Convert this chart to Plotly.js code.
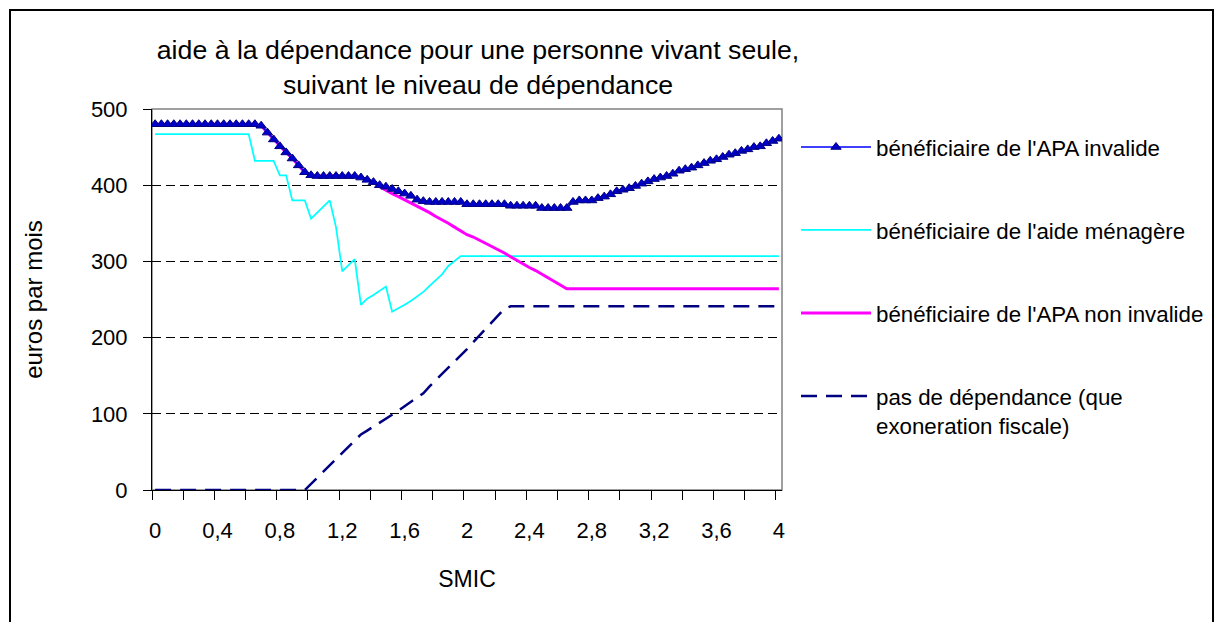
<!DOCTYPE html>
<html><head><meta charset="utf-8">
<script src="https://cdn.plot.ly/plotly-3.0.1.min.js"></script>
<style>
html,body{margin:0;padding:0;background:#fff;}
#chart{width:1220px;height:622px;}
#frame{position:absolute;left:9px;top:9px;width:1201px;height:700px;border:2px solid #000;pointer-events:none;}
</style></head><body>
<div id="chart"></div><div id="frame"></div>
<script>
// SMIC categories (x)
const smic = [0,0.04,0.08,0.12,0.16,0.2,0.24,0.28,0.32,0.36,0.4,0.44,0.48,0.52,0.56,0.6,0.64,0.68,0.72,0.76,
0.8,0.84,0.88,0.92,0.96,1,1.04,1.08,1.12,1.16,1.2,1.24,1.28,1.32,1.36,1.4,1.44,1.48,1.52,1.56,
1.6,1.64,1.68,1.72,1.76,1.8,1.84,1.88,1.92,1.96,2,2.04,2.08,2.12,2.16,2.2,2.24,2.28,2.32,2.36,
2.4,2.44,2.48,2.52,2.56,2.6,2.64,2.68,2.72,2.76,2.8,2.84,2.88,2.92,2.96,3,3.04,3.08,3.12,3.16,
3.2,3.24,3.28,3.32,3.36,3.4,3.44,3.48,3.52,3.56,3.6,3.64,3.68,3.72,3.76,3.8,3.84,3.88,3.92,3.96,4];

const apaInvalide = [480,480,480,480,480,480,480,480,480,480,480,480,480,480,480,480,480,
478,469,460,451,443,435,426,417,413,
412,412,412,412,412,412,412,
410,407,404,400,398,395,392,389,386,381,379,
378,378,378,378,378,378,
375,375,375,375,375,375,375,
373,373,373,373,373,
370,370,370,370,370,
378,380,380,380,383,385,388,392,394,396,399,402,405,408,410,412,415,419,421,423,426,429,432,434,437,440,442,445,447,450,451,455,458,461];

const aideMenagere = [467,467,467,467,467,467,467,467,467,467,467,467,467,467,467,467,
432,432,432,432,413,413,380,380,380,
356,364,372,380,345,287,295,303,243,251,256,262,267,234,238,243,248,254,260,268,276,283,294,301,
307,307,307,307,307,307,307,307,307,307,307,307,307,307,307,307,307,307,307,307,307,307,307,307,307,307,
307,307,307,307,307,307,307,307,307,307,307,307,307,307,307,307,307,307,307,307,307,307,307,307,307,307];

const apaNonInvalide = [480,480,480,480,480,480,480,480,480,480,480,480,480,480,480,480,480,
478,469,460,451,443,435,426,417,413,
412,412,412,412,412,412,412,
410,407,404,
398,393,389,385,381,377,373,368,364,359,355,350,345,340,335,332,328,324,320,316,311,306,301,297,292,288,283,278,274,269,264,
264,264,264,264,264,264,264,264,264,264,264,264,264,264,264,264,264,264,264,264,264,264,264,264,264,264,264,264,264,264,264,264,264,264];

const pasDependance = [0,0,0,0,0,0,0,0,0,0,0,0,0,0,0,0,0,0,0,0,0,0,0,0,0,
8,16,24,32,40,48,57,65,73,78,83,88,93,98,104,110,116,121,127,136,144,152,160,169,177,185,194,203,212,221,230,238,241,
241,241,241,241,241,241,241,241,241,241,241,241,241,241,241,241,241,241,241,241,241,241,241,241,241,241,241,241,241,241,241,241,241,241,241,241,241,241,241,241,241,241,241];

const seriesNames = ["bénéficiaire de l'APA invalide","bénéficiaire de l'aide ménagère","bénéficiaire de l'APA non invalide","pas de dépendance (que<br>exoneration fiscale)"];
const xTickVals = [0,0.4,0.8,1.2,1.6,2,2.4,2.8,3.2,3.6,4];
const xTickText = ["0","0,4","0,8","1,2","1,6","2","2,4","2,8","3,2","3,6","4"];
const yTickVals = [0,100,200,300,400,500];

const FONT = "Liberation Sans, Arial, sans-serif";

const traces = [
  {x: smic, y: pasDependance, name: seriesNames[3], mode:'lines', legendrank:4, legendgroup:'d',
   line:{color:'#000080', width:2.5, dash:'16px,9px'}},
  {x: smic, y: aideMenagere, name: seriesNames[1], mode:'lines', legendrank:2, legendgroup:'b',
   line:{color:'#00FFFF', width:1.75}},
  {x: smic, y: apaNonInvalide, name: seriesNames[2], mode:'lines', legendrank:3, legendgroup:'c',
   line:{color:'#FF00FF', width:3}},
  {x: smic, y: apaInvalide, name: seriesNames[0], mode:'lines+markers', legendrank:1, legendgroup:'a',
   line:{color:'#0000FF', width:1.5},
   marker:{symbol:'triangle-up', size:9, color:'#0000CC', line:{color:'#000080', width:1}}}
];

const layout = {
  width:1220, height:622,
  paper_bgcolor:'#fff', plot_bgcolor:'#fff',
  separators:', ',
  margin:{l:152, r:437, t:109, b:132},
  font:{family:FONT, color:'#000', size:22},
  title:{text:"aide à la dépendance pour une personne vivant seule,<br>suivant le niveau de dépendance",
    font:{family:FONT, size:26.7, color:'#000'}, x:0.5175, xref:'paper', xanchor:'center',
    y:1-59/622, yref:'container', yanchor:'top'},
  xaxis:{range:[-0.02,4.02], tickmode:'array', tickvals:xTickVals, ticktext:xTickText,
    ticks:'', ticklabelstandoff:21, showgrid:false, zeroline:false,
    showline:true, linecolor:'#000', linewidth:1,
    tickfont:{family:FONT, size:22},
    minor:{tick0:-0.02, dtick:0.2, ticks:'outside', ticklen:9, tickcolor:'#000', tickwidth:1, showgrid:false},
    title:{text:'SMIC', font:{family:FONT, size:23}, standoff:28}},
  yaxis:{range:[0,500], tickmode:'array', tickvals:yTickVals, ticks:'outside', ticklen:8,
    tickcolor:'#000', ticklabelstandoff:11,
    showgrid:true, gridcolor:'#000', gridwidth:1, griddash:'9px,5px', zeroline:false,
    showline:true, linecolor:'#000', linewidth:1,
    tickfont:{family:FONT, size:22},
    title:{text:'euros par mois', font:{family:FONT, size:24}, standoff:41}},
  shapes:[{type:'rect', xref:'x domain', yref:'y domain', x0:0, x1:1, y0:0, y1:1,
    line:{color:'#808080', width:1.5}, layer:'below'}],
  showlegend:true,
  legend:{x:(796-152)/631, xanchor:'left', y:(490-126)/381, yanchor:'top',
    font:{family:FONT, size:22.3, color:'#000'}, tracegroupgap:51, itemwidth:70,
    valign:'top', bgcolor:'rgba(0,0,0,0)', borderwidth:0, traceorder:'grouped'}
};

Plotly.newPlot('chart', traces, layout, {displayModeBar:false, staticPlot:true});
</script>
</body></html>
